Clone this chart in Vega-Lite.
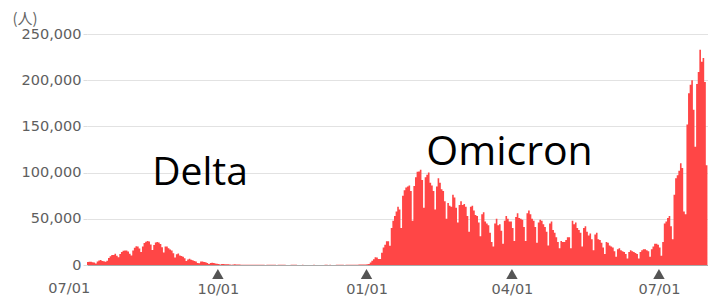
{
  "$schema": "https://vega.github.io/schema/vega-lite/v6.json",
  "width": 621,
  "height": 231,
  "autosize": {"type": "none"},
  "padding": {"left": 87, "top": 34, "right": 0, "bottom": 31},
  "background": "#ffffff",
  "config": {"view": {"stroke": null}, "font": "DejaVu Sans"},
  "datasets": {
    "cases": [
{"date":"2021-07-12","cases":3200},{"date":"2021-07-13","cases":3400},{"date":"2021-07-14","cases":3400},{"date":"2021-07-15","cases":3100},{"date":"2021-07-16","cases":2700},{"date":"2021-07-17","cases":1700},{"date":"2021-07-18","cases":3700},{"date":"2021-07-19","cases":5000},{"date":"2021-07-20","cases":5400},{"date":"2021-07-21","cases":4200},{"date":"2021-07-22","cases":4000},{"date":"2021-07-23","cases":3600},{"date":"2021-07-24","cases":4700},{"date":"2021-07-25","cases":7600},{"date":"2021-07-26","cases":9600},{"date":"2021-07-27","cases":10700},{"date":"2021-07-28","cases":10700},{"date":"2021-07-29","cases":12300},{"date":"2021-07-30","cases":10100},{"date":"2021-07-31","cases":8400},
{"date":"2021-08-01","cases":12000},{"date":"2021-08-02","cases":14200},{"date":"2021-08-03","cases":15300},{"date":"2021-08-04","cases":15700},{"date":"2021-08-05","cases":15700},{"date":"2021-08-06","cases":14500},{"date":"2021-08-07","cases":12100},{"date":"2021-08-08","cases":10300},{"date":"2021-08-09","cases":15800},{"date":"2021-08-10","cases":18800},{"date":"2021-08-11","cases":20300},{"date":"2021-08-12","cases":20100},{"date":"2021-08-13","cases":17800},{"date":"2021-08-14","cases":14000},{"date":"2021-08-15","cases":19900},{"date":"2021-08-16","cases":23900},{"date":"2021-08-17","cases":25100},{"date":"2021-08-18","cases":25900},{"date":"2021-08-19","cases":25500},{"date":"2021-08-20","cases":22300},{"date":"2021-08-21","cases":16300},{"date":"2021-08-22","cases":21600},{"date":"2021-08-23","cases":24300},{"date":"2021-08-24","cases":24900},{"date":"2021-08-25","cases":24400},{"date":"2021-08-26","cases":22700},{"date":"2021-08-27","cases":19200},{"date":"2021-08-28","cases":13500},{"date":"2021-08-29","cases":19900},{"date":"2021-08-30","cases":20000},{"date":"2021-08-31","cases":18000},
{"date":"2021-09-01","cases":16700},{"date":"2021-09-02","cases":15700},{"date":"2021-09-03","cases":12800},{"date":"2021-09-04","cases":8200},{"date":"2021-09-05","cases":11600},{"date":"2021-09-06","cases":12400},{"date":"2021-09-07","cases":10400},{"date":"2021-09-08","cases":9800},{"date":"2021-09-09","cases":8900},{"date":"2021-09-10","cases":7200},{"date":"2021-09-11","cases":4200},{"date":"2021-09-12","cases":6000},{"date":"2021-09-13","cases":6800},{"date":"2021-09-14","cases":5800},{"date":"2021-09-15","cases":5100},{"date":"2021-09-16","cases":4400},{"date":"2021-09-17","cases":3900},{"date":"2021-09-18","cases":2200},{"date":"2021-09-19","cases":1800},{"date":"2021-09-20","cases":3900},{"date":"2021-09-21","cases":3700},{"date":"2021-09-22","cases":3300},{"date":"2021-09-23","cases":2900},{"date":"2021-09-24","cases":2100},{"date":"2021-09-25","cases":1100},{"date":"2021-09-26","cases":2100},{"date":"2021-09-27","cases":2400},{"date":"2021-09-28","cases":2100},{"date":"2021-09-29","cases":1600},{"date":"2021-09-30","cases":1400},
{"date":"2021-10-01","cases":1200},{"date":"2021-10-02","cases":600},{"date":"2021-10-03","cases":1100},{"date":"2021-10-04","cases":1100},{"date":"2021-10-05","cases":900},{"date":"2021-10-06","cases":800},{"date":"2021-10-07","cases":800},{"date":"2021-10-08","cases":600},{"date":"2021-10-09","cases":400},{"date":"2021-10-10","cases":600},{"date":"2021-10-11","cases":700},{"date":"2021-10-12","cases":600},{"date":"2021-10-13","cases":500},{"date":"2021-10-14","cases":500},{"date":"2021-10-15","cases":400},{"date":"2021-10-16","cases":250},{"date":"2021-10-17","cases":400},{"date":"2021-10-18","cases":400},{"date":"2021-10-19","cases":350},{"date":"2021-10-20","cases":350},{"date":"2021-10-21","cases":300},{"date":"2021-10-22","cases":250},{"date":"2021-10-23","cases":150},{"date":"2021-10-24","cases":300},{"date":"2021-10-25","cases":300},{"date":"2021-10-26","cases":250},{"date":"2021-10-27","cases":250},{"date":"2021-10-28","cases":250},{"date":"2021-10-29","cases":220},{"date":"2021-10-30","cases":90},{"date":"2021-10-31","cases":160},
{"date":"2021-11-01","cases":190},{"date":"2021-11-02","cases":220},{"date":"2021-11-03","cases":200},{"date":"2021-11-04","cases":160},{"date":"2021-11-05","cases":170},{"date":"2021-11-06","cases":80},{"date":"2021-11-07","cases":150},{"date":"2021-11-08","cases":200},{"date":"2021-11-09","cases":190},{"date":"2021-11-10","cases":180},{"date":"2021-11-11","cases":150},{"date":"2021-11-12","cases":120},{"date":"2021-11-13","cases":70},{"date":"2021-11-14","cases":120},{"date":"2021-11-15","cases":180},{"date":"2021-11-16","cases":200},{"date":"2021-11-17","cases":150},{"date":"2021-11-18","cases":140},{"date":"2021-11-19","cases":110},{"date":"2021-11-20","cases":60},{"date":"2021-11-21","cases":130},{"date":"2021-11-22","cases":140},{"date":"2021-11-23","cases":120},{"date":"2021-11-24","cases":120},{"date":"2021-11-25","cases":130},{"date":"2021-11-26","cases":100},{"date":"2021-11-27","cases":60},{"date":"2021-11-28","cases":110},{"date":"2021-11-29","cases":140},{"date":"2021-11-30","cases":130},
{"date":"2021-12-01","cases":130},{"date":"2021-12-02","cases":120},{"date":"2021-12-03","cases":110},{"date":"2021-12-04","cases":60},{"date":"2021-12-05","cases":120},{"date":"2021-12-06","cases":150},{"date":"2021-12-07","cases":140},{"date":"2021-12-08","cases":130},{"date":"2021-12-09","cases":150},{"date":"2021-12-10","cases":120},{"date":"2021-12-11","cases":80},{"date":"2021-12-12","cases":130},{"date":"2021-12-13","cases":180},{"date":"2021-12-14","cases":170},{"date":"2021-12-15","cases":180},{"date":"2021-12-16","cases":190},{"date":"2021-12-17","cases":160},{"date":"2021-12-18","cases":110},{"date":"2021-12-19","cases":190},{"date":"2021-12-20","cases":250},{"date":"2021-12-21","cases":250},{"date":"2021-12-22","cases":290},{"date":"2021-12-23","cases":260},{"date":"2021-12-24","cases":200},{"date":"2021-12-25","cases":180},{"date":"2021-12-26","cases":390},{"date":"2021-12-27","cases":500},{"date":"2021-12-28","cases":450},{"date":"2021-12-29","cases":550},{"date":"2021-12-30","cases":535},{"date":"2021-12-31","cases":550},
{"date":"2022-01-01","cases":780},{"date":"2022-01-02","cases":1150},{"date":"2022-01-03","cases":2640},{"date":"2022-01-04","cases":4470},{"date":"2022-01-05","cases":6200},{"date":"2022-01-06","cases":8480},{"date":"2022-01-07","cases":8000},{"date":"2022-01-08","cases":6400},{"date":"2022-01-09","cases":6400},{"date":"2022-01-10","cases":13200},{"date":"2022-01-11","cases":18860},{"date":"2022-01-12","cases":22000},{"date":"2022-01-13","cases":25700},{"date":"2022-01-14","cases":25600},{"date":"2022-01-15","cases":20800},{"date":"2022-01-16","cases":40000},{"date":"2022-01-17","cases":48000},{"date":"2022-01-18","cases":53000},{"date":"2022-01-19","cases":58000},{"date":"2022-01-20","cases":63000},{"date":"2022-01-21","cases":60000},{"date":"2022-01-22","cases":40000},{"date":"2022-01-23","cases":75000},{"date":"2022-01-24","cases":81000},{"date":"2022-01-25","cases":84000},{"date":"2022-01-26","cases":85000},{"date":"2022-01-27","cases":86000},{"date":"2022-01-28","cases":80000},{"date":"2022-01-29","cases":48000},{"date":"2022-01-30","cases":85500},{"date":"2022-01-31","cases":94900},
{"date":"2022-02-01","cases":100900},{"date":"2022-02-02","cases":101200},{"date":"2022-02-03","cases":103000},{"date":"2022-02-04","cases":92000},{"date":"2022-02-05","cases":62000},{"date":"2022-02-06","cases":95000},{"date":"2022-02-07","cases":97700},{"date":"2022-02-08","cases":100000},{"date":"2022-02-09","cases":89000},{"date":"2022-02-10","cases":86000},{"date":"2022-02-11","cases":80000},{"date":"2022-02-12","cases":60000},{"date":"2022-02-13","cases":85000},{"date":"2022-02-14","cases":94000},{"date":"2022-02-15","cases":89000},{"date":"2022-02-16","cases":82000},{"date":"2022-02-17","cases":80000},{"date":"2022-02-18","cases":69000},{"date":"2022-02-19","cases":50000},{"date":"2022-02-20","cases":67000},{"date":"2022-02-21","cases":64000},{"date":"2022-02-22","cases":63000},{"date":"2022-02-23","cases":76000},{"date":"2022-02-24","cases":73000},{"date":"2022-02-25","cases":62000},{"date":"2022-02-26","cases":46000},{"date":"2022-02-27","cases":65000},{"date":"2022-02-28","cases":69000},
{"date":"2022-03-01","cases":65000},{"date":"2022-03-02","cases":66000},{"date":"2022-03-03","cases":63000},{"date":"2022-03-04","cases":53000},{"date":"2022-03-05","cases":36000},{"date":"2022-03-06","cases":63000},{"date":"2022-03-07","cases":64000},{"date":"2022-03-08","cases":59000},{"date":"2022-03-09","cases":54000},{"date":"2022-03-10","cases":53000},{"date":"2022-03-11","cases":46000},{"date":"2022-03-12","cases":31000},{"date":"2022-03-13","cases":55000},{"date":"2022-03-14","cases":57000},{"date":"2022-03-15","cases":47000},{"date":"2022-03-16","cases":45000},{"date":"2022-03-17","cases":43000},{"date":"2022-03-18","cases":35000},{"date":"2022-03-19","cases":25000},{"date":"2022-03-20","cases":20000},{"date":"2022-03-21","cases":45000},{"date":"2022-03-22","cases":50000},{"date":"2022-03-23","cases":43000},{"date":"2022-03-24","cases":44000},{"date":"2022-03-25","cases":37000},{"date":"2022-03-26","cases":23000},{"date":"2022-03-27","cases":48000},{"date":"2022-03-28","cases":53000},{"date":"2022-03-29","cases":50000},{"date":"2022-03-30","cases":47000},{"date":"2022-03-31","cases":47000},
{"date":"2022-04-01","cases":40000},{"date":"2022-04-02","cases":26000},{"date":"2022-04-03","cases":52000},{"date":"2022-04-04","cases":56000},{"date":"2022-04-05","cases":51000},{"date":"2022-04-06","cases":50000},{"date":"2022-04-07","cases":49000},{"date":"2022-04-08","cases":41000},{"date":"2022-04-09","cases":26000},{"date":"2022-04-10","cases":56000},{"date":"2022-04-11","cases":59000},{"date":"2022-04-12","cases":55000},{"date":"2022-04-13","cases":50000},{"date":"2022-04-14","cases":48000},{"date":"2022-04-15","cases":41000},{"date":"2022-04-16","cases":24000},{"date":"2022-04-17","cases":46000},{"date":"2022-04-18","cases":49000},{"date":"2022-04-19","cases":48000},{"date":"2022-04-20","cases":44000},{"date":"2022-04-21","cases":41000},{"date":"2022-04-22","cases":36000},{"date":"2022-04-23","cases":21000},{"date":"2022-04-24","cases":45000},{"date":"2022-04-25","cases":47000},{"date":"2022-04-26","cases":38000},{"date":"2022-04-27","cases":35000},{"date":"2022-04-28","cases":30000},{"date":"2022-04-29","cases":25000},{"date":"2022-04-30","cases":18000},
{"date":"2022-05-01","cases":26000},{"date":"2022-05-02","cases":25000},{"date":"2022-05-03","cases":25000},{"date":"2022-05-04","cases":27000},{"date":"2022-05-05","cases":30000},{"date":"2022-05-06","cases":30000},{"date":"2022-05-07","cases":18000},{"date":"2022-05-08","cases":48000},{"date":"2022-05-09","cases":44000},{"date":"2022-05-10","cases":46000},{"date":"2022-05-11","cases":40000},{"date":"2022-05-12","cases":38000},{"date":"2022-05-13","cases":35000},{"date":"2022-05-14","cases":20000},{"date":"2022-05-15","cases":40000},{"date":"2022-05-16","cases":42000},{"date":"2022-05-17","cases":36000},{"date":"2022-05-18","cases":32000},{"date":"2022-05-19","cases":34000},{"date":"2022-05-20","cases":28000},{"date":"2022-05-21","cases":16000},{"date":"2022-05-22","cases":33000},{"date":"2022-05-23","cases":35000},{"date":"2022-05-24","cases":28000},{"date":"2022-05-25","cases":27000},{"date":"2022-05-26","cases":24000},{"date":"2022-05-27","cases":19000},{"date":"2022-05-28","cases":12000},{"date":"2022-05-29","cases":25000},{"date":"2022-05-30","cases":24000},{"date":"2022-05-31","cases":21000},
{"date":"2022-06-01","cases":20000},{"date":"2022-06-02","cases":19000},{"date":"2022-06-03","cases":15000},{"date":"2022-06-04","cases":9000},{"date":"2022-06-05","cases":17000},{"date":"2022-06-06","cases":18000},{"date":"2022-06-07","cases":16000},{"date":"2022-06-08","cases":15000},{"date":"2022-06-09","cases":14000},{"date":"2022-06-10","cases":12000},{"date":"2022-06-11","cases":7000},{"date":"2022-06-12","cases":14000},{"date":"2022-06-13","cases":16000},{"date":"2022-06-14","cases":15000},{"date":"2022-06-15","cases":14000},{"date":"2022-06-16","cases":13000},{"date":"2022-06-17","cases":12000},{"date":"2022-06-18","cases":7000},{"date":"2022-06-19","cases":14000},{"date":"2022-06-20","cases":16000},{"date":"2022-06-21","cases":17000},{"date":"2022-06-22","cases":17000},{"date":"2022-06-23","cases":16000},{"date":"2022-06-24","cases":15000},{"date":"2022-06-25","cases":9000},{"date":"2022-06-26","cases":17000},{"date":"2022-06-27","cases":20000},{"date":"2022-06-28","cases":23000},{"date":"2022-06-29","cases":23000},{"date":"2022-06-30","cases":22000},
{"date":"2022-07-01","cases":19000},{"date":"2022-07-02","cases":10000},{"date":"2022-07-03","cases":25000},{"date":"2022-07-04","cases":45000},{"date":"2022-07-05","cases":47000},{"date":"2022-07-06","cases":51000},{"date":"2022-07-07","cases":53000},{"date":"2022-07-08","cases":42000},{"date":"2022-07-09","cases":28000},{"date":"2022-07-10","cases":76000},{"date":"2022-07-11","cases":94000},{"date":"2022-07-12","cases":97000},{"date":"2022-07-13","cases":102000},{"date":"2022-07-14","cases":110000},{"date":"2022-07-15","cases":105000},{"date":"2022-07-16","cases":58000},{"date":"2022-07-17","cases":55000},{"date":"2022-07-18","cases":152000},{"date":"2022-07-19","cases":186000},{"date":"2022-07-20","cases":195000},{"date":"2022-07-21","cases":200000},{"date":"2022-07-22","cases":168000},{"date":"2022-07-23","cases":128000},{"date":"2022-07-24","cases":196000},{"date":"2022-07-25","cases":209000},{"date":"2022-07-26","cases":233000},{"date":"2022-07-27","cases":220000},{"date":"2022-07-28","cases":224000},{"date":"2022-07-29","cases":198000},{"date":"2022-07-30","cases":108000},{"date":"2022-07-31","cases":196000}
    ],
    "markers": [{"date":"2021-10-01"},{"date":"2022-01-01"},{"date":"2022-04-01"},{"date":"2022-07-01"}]
  },
  "layer": [
    {
      "data": {"name": "cases"},
      "mark": {"type": "area", "color": "#ff4646", "interpolate": "step-after", "opacity": 1, "clip": true},
      "encoding": {
        "x": {
          "field": "date", "type": "temporal",
          "scale": {"domain": [{"year": 2021, "month": 7, "date": 12, "utc": true}, {"year": 2022, "month": 7, "date": 31, "hours": 8, "minutes": 24, "utc": true}], "nice": false},
          "axis": {
            "title": null,
            "values": [{"year": 2021, "month": 10, "date": 1, "utc": true}, {"year": 2022, "month": 1, "date": 1, "utc": true}, {"year": 2022, "month": 4, "date": 1, "utc": true}, {"year": 2022, "month": 7, "date": 1, "utc": true}],
            "labelExpr": "utcFormat(datum.value, '%m/%d')",
            "ticks": false, "grid": false,
            "domainColor": "#aaaaaa", "domainWidth": 1,
            "labelFont": "DejaVu Sans", "labelFontSize": 14.5, "labelColor": "#5e5e5e",
            "labelPadding": 17, "labelFlush": false, "labelOverlap": false
          }
        },
        "y": {
          "field": "cases", "type": "quantitative",
          "scale": {"domain": [0, 250000], "nice": false},
          "axis": {
            "title": "(人)", "titleAngle": 0, "titleAlign": "left", "titleBaseline": "alphabetic",
            "titleX": -75, "titleY": -11, "titleFont": "Noto Sans CJK JP", "titleFontSize": 15,
            "titleFontWeight": "normal", "titleColor": "#666666",
            "values": [0, 50000, 100000, 150000, 200000, 250000],
            "format": ",d", "domain": false,
            "tickColor": "#dddddd", "tickSize": 4, "labelPadding": 2,
            "gridColor": "#e2e2e2",
            "labelFont": "DejaVu Sans", "labelFontSize": 14.5, "labelColor": "#5e5e5e"
          }
        }
      }
    },
    {
      "data": {"name": "markers"},
      "mark": {"type": "point", "shape": "triangle-up", "filled": true, "color": "#555555", "opacity": 1, "size": 130, "yOffset": 9},
      "encoding": {"x": {"field": "date", "type": "temporal"}, "y": {"datum": 0}}
    },
    {
      "data": {"values": [{}]},
      "mark": {"type": "text", "text": "07/01", "align": "center", "baseline": "top", "dy": 17, "font": "DejaVu Sans", "fontSize": 14.5, "color": "#5e5e5e"},
      "encoding": {"x": {"datum": {"year": 2021, "month": 7, "date": 1, "utc": true}, "type": "temporal"}, "y": {"datum": 0}}
    },
    {
      "data": {"values": [{}]},
      "mark": {"type": "text", "text": "Delta", "align": "center", "baseline": "alphabetic", "font": "Open Sans", "fontSize": 39, "color": "#000000"},
      "encoding": {"x": {"datum": {"year": 2021, "month": 9, "date": 20, "utc": true}, "type": "temporal"}, "y": {"datum": 86580}}
    },
    {
      "data": {"values": [{}]},
      "mark": {"type": "text", "text": "Omicron", "align": "center", "baseline": "alphabetic", "font": "Open Sans", "fontSize": 41, "color": "#000000"},
      "encoding": {"x": {"datum": {"year": 2022, "month": 3, "date": 30, "hours": 12, "utc": true}, "type": "temporal"}, "y": {"datum": 108225}}
    }
  ]
}
